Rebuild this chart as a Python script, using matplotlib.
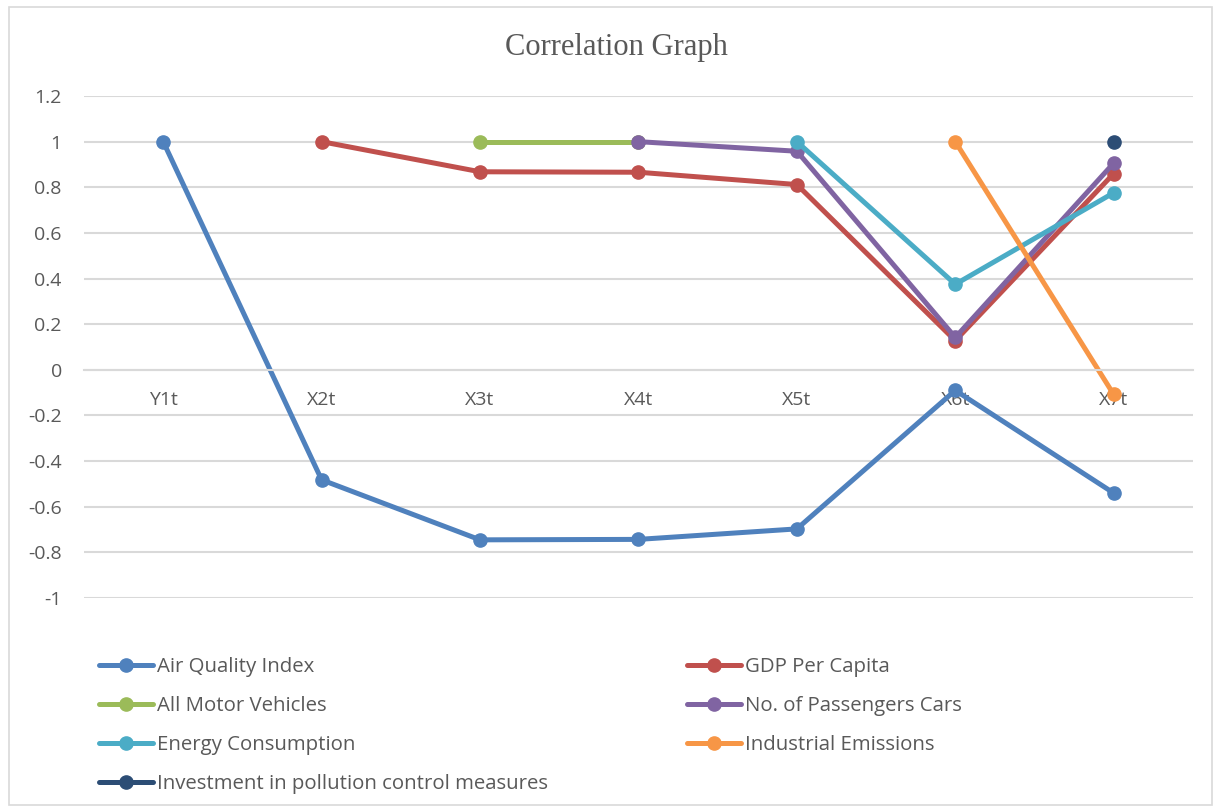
import matplotlib
matplotlib.use("Agg")
import matplotlib.pyplot as plt
from matplotlib.patches import Rectangle
import numpy as np

# categories on the x axis
categories = ["Y1t", "X2t", "X3t", "X4t", "X5t", "X6t", "X7t"]

# correlation values (None = no value for that category)
air_quality = [1, -0.482, -0.745, -0.743, -0.697, -0.09, -0.54]
gdp_per_capita = [None, 1, 0.868, 0.866, 0.812, 0.128, 0.86]
motor_vehicles = [None, None, 1, 1, None, None, None]
passenger_cars = [None, None, None, 1, 0.958, 0.142, 0.906]
energy_cons = [None, None, None, None, 1, 0.375, 0.776]
industrial_em = [None, None, None, None, None, 1, -0.108]
investment = [None, None, None, None, None, None, 1]

series = [
    ("Air Quality Index", air_quality, "#4F81BD"),
    ("GDP Per Capita", gdp_per_capita, "#C0504D"),
    ("All Motor Vehicles", motor_vehicles, "#9BBB59"),
    ("No. of Passengers Cars", passenger_cars, "#8064A2"),
    ("Energy Consumption", energy_cons, "#4BACC6"),
    ("Industrial Emissions", industrial_em, "#F79646"),
    ("Investment in pollution control measures", investment, "#2C4D75"),
]

plt.rcParams['font.family'] = ['Open Sans', 'DejaVu Sans']
txt_col = "#595959"

fig = plt.figure(figsize=(12.21, 8.11), dpi=100)
ax = fig.add_axes([0.0688, 0.2626, 0.9082, 0.619])

x = np.arange(len(categories))
handles = {}
for name, vals, col in series:
    y = np.array([np.nan if v is None else v for v in vals], dtype=float)
    h, = ax.plot(x, y, color=col, lw=3.6, marker="o", ms=9.5,
                 solid_capstyle="round", label=name)
    handles[name] = h

ax.set_xlim(-0.5, len(categories) - 0.5)
ax.set_ylim(-1, 1.2)
ax.set_yticks(np.arange(-1, 1.21, 0.2))
ax.set_yticklabels(["-1", "-0.8", "-0.6", "-0.4", "-0.2", "0",
                    "0.2", "0.4", "0.6", "0.8", "1", "1.2"])
ax.yaxis.grid(True, color="#D9D9D9", lw=1.5)
ax.set_axisbelow(True)
for s in ["top", "right", "left"]:
    ax.spines[s].set_visible(False)
ax.spines["bottom"].set_position(("data", 0))
ax.spines["bottom"].set_color("#D9D9D9")
ax.spines["bottom"].set_linewidth(1.5)
ax.set_xticks(x)
ax.set_xticklabels(categories)
ax.tick_params(axis="x", length=0, pad=15, labelsize=14, colors=txt_col)
ax.tick_params(axis="y", length=0, pad=16, labelsize=14, colors=txt_col)

fig.text(0.5045, 0.941, "Correlation Graph", family="Liberation Serif",
         fontsize=22, color=txt_col, ha="center", va="center")

left_names = ["Air Quality Index", "All Motor Vehicles", "Energy Consumption",
              "Investment in pollution control measures"]
right_names = ["GDP Per Capita", "No. of Passengers Cars", "Industrial Emissions"]
leg_kw = dict(frameon=False, fontsize=14.7, labelcolor=txt_col,
              handlelength=2.65, handletextpad=0.2, labelspacing=0.93,
              borderaxespad=0, loc="upper left")
fig.legend([handles[n] for n in left_names], left_names,
           bbox_to_anchor=(0.0745, 0.2), **leg_kw)
fig.legend([handles[n] for n in right_names], right_names,
           bbox_to_anchor=(0.556, 0.2), **leg_kw)

fig.patches.append(Rectangle((0.007, 0.007), 0.986, 0.984, transform=fig.transFigure,
                             fill=False, edgecolor="#D9D9D9", lw=1.2))

fig.savefig("out.png", dpi=100, facecolor="white")
